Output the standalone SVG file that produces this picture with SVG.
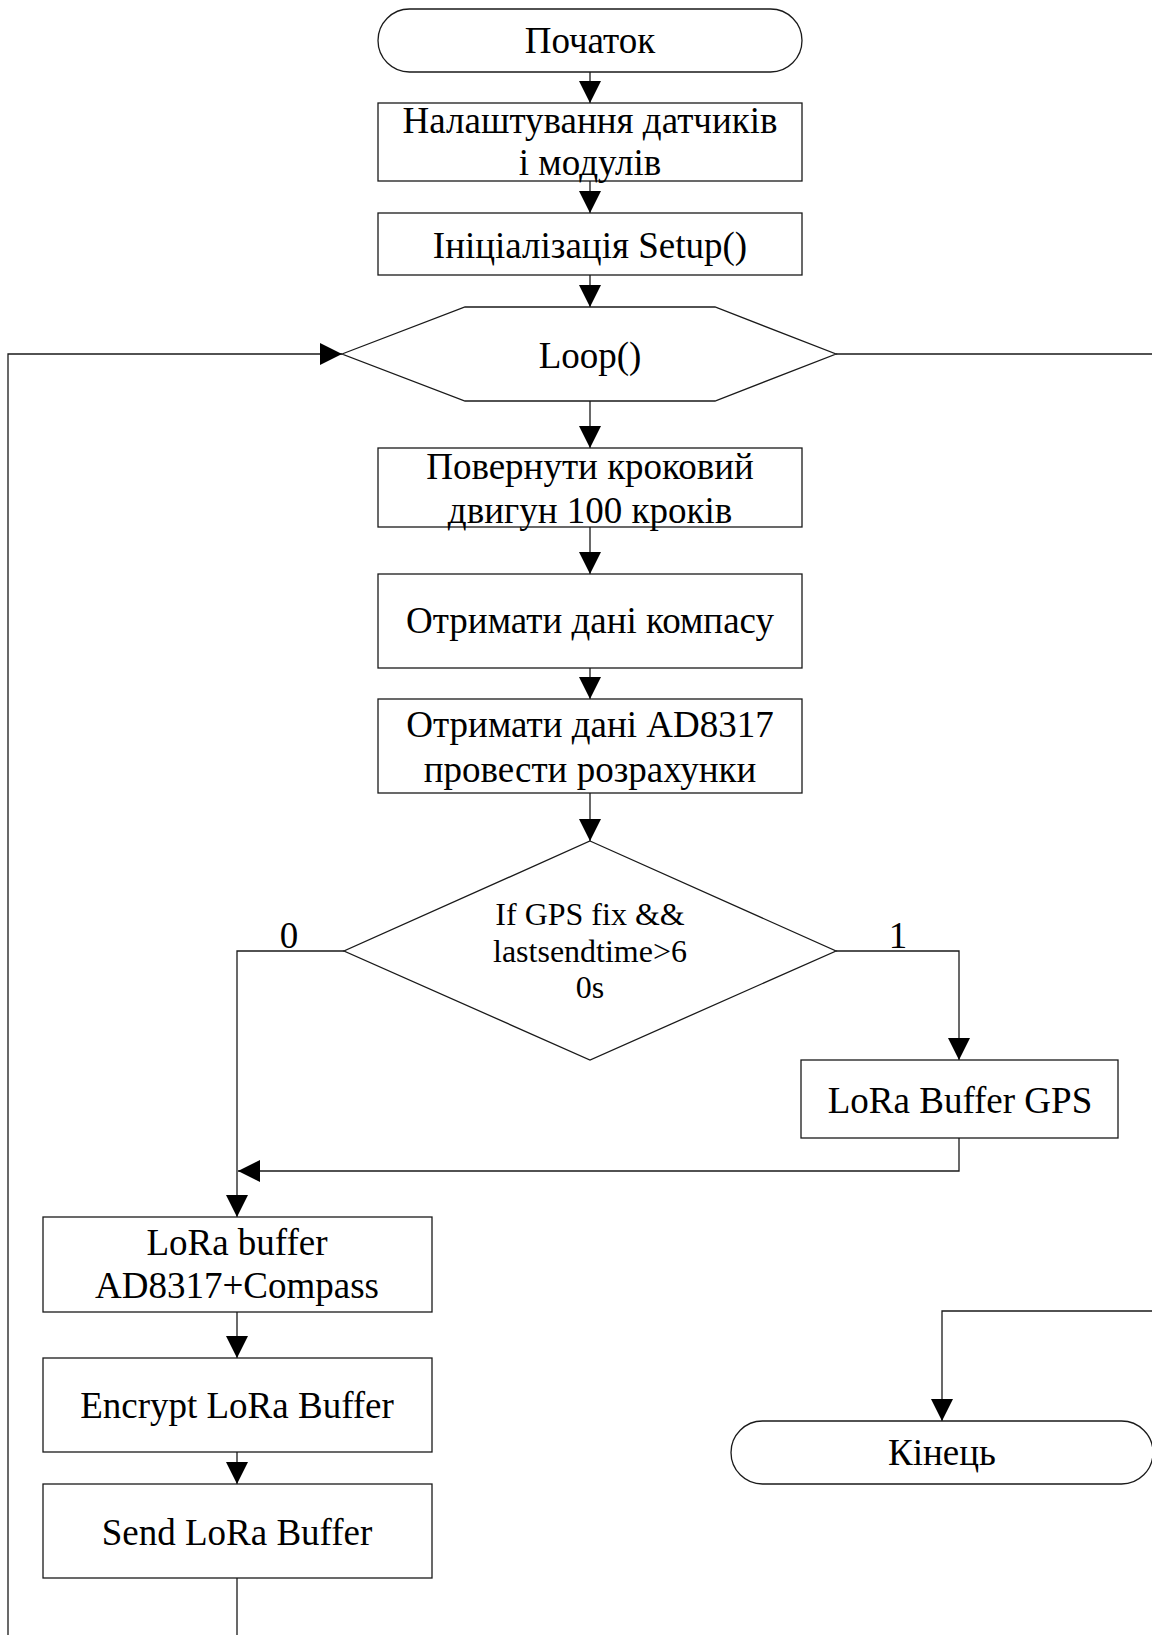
<svg xmlns="http://www.w3.org/2000/svg" width="1152" height="1635" viewBox="0 0 1152 1635">
<style>
.s{fill:#fff;stroke:#1a1a1a;stroke-width:1.3}
.c{fill:none;stroke:#1a1a1a;stroke-width:1.3}
text{font-family:"Liberation Serif","Times New Roman",serif;font-size:37px;fill:#000;text-anchor:middle}
.d{font-size:32px}
</style>
<defs>
<marker id="ah" markerUnits="userSpaceOnUse" markerWidth="22" markerHeight="22" refX="22" refY="11" orient="auto">
<path d="M0,0 L22,11 L0,22 z" fill="#000"/>
</marker>
</defs>
<rect width="1152" height="1635" fill="#fff"/>
<g id="connectors">
<path class="c" d="M590,72 V103" marker-end="url(#ah)"/>
<path class="c" d="M590,181 V213" marker-end="url(#ah)"/>
<path class="c" d="M590,275 V307" marker-end="url(#ah)"/>
<path class="c" d="M590,401 V448" marker-end="url(#ah)"/>
<path class="c" d="M590,527 V574" marker-end="url(#ah)"/>
<path class="c" d="M590,668 V699" marker-end="url(#ah)"/>
<path class="c" d="M590,793 V841" marker-end="url(#ah)"/>
<path class="c" d="M344,951 H237 V1217" marker-end="url(#ah)"/>
<path class="c" d="M836,951 H959 V1060" marker-end="url(#ah)"/>
<path class="c" d="M959,1138 V1171 H238" marker-end="url(#ah)"/>
<path class="c" d="M237,1312 V1358" marker-end="url(#ah)"/>
<path class="c" d="M237,1452 V1484" marker-end="url(#ah)"/>
<path class="c" d="M237,1578 V1700 H8 V354 H342" marker-end="url(#ah)"/>
<path class="c" d="M836,354 H1200 V1311 H942 V1421" marker-end="url(#ah)"/>
<text x="289" y="948">0</text>
<text x="898" y="948">1</text>
</g>
<g id="start">
<rect class="s" x="378" y="9" width="424" height="63" rx="31.5" ry="31.5"/>
<text x="590" y="53">Початок</text>
</g>
<g id="setup-sensors">
<rect class="s" x="378" y="103" width="424" height="78"/>
<text x="590" y="133">Налаштування датчиків</text>
<text x="590" y="175">і модулів</text>
</g>
<g id="init-setup">
<rect class="s" x="378" y="213" width="424" height="62"/>
<text x="590" y="258">Ініціалізація Setup()</text>
</g>
<g id="loop">
<polygon class="s" points="342,354 465,307 715,307 836,354 715,401 465,401"/>
<text x="590" y="368">Loop()</text>
</g>
<g id="rotate-stepper">
<rect class="s" x="378" y="448" width="424" height="79"/>
<text x="590" y="479">Повернути кроковий</text>
<text x="590" y="523">двигун 100 кроків</text>
</g>
<g id="compass">
<rect class="s" x="378" y="574" width="424" height="94"/>
<text x="590" y="633">Отримати дані компасу</text>
</g>
<g id="ad8317">
<rect class="s" x="378" y="699" width="424" height="94"/>
<text x="590" y="737">Отримати дані AD8317</text>
<text x="590" y="782">провести розрахунки</text>
</g>
<g id="gps-check">
<polygon class="s" points="590,841 836,951 590,1060 344,951"/>
<text class="d" x="590" y="925">If GPS fix &amp;&amp;</text>
<text class="d" x="590" y="962">lastsendtime&gt;6</text>
<text class="d" x="590" y="998">0s</text>
</g>
<g id="lora-gps">
<rect class="s" x="801" y="1060" width="317" height="78"/>
<text x="960" y="1113">LoRa Buffer GPS</text>
</g>
<g id="lora-buffer">
<rect class="s" x="43" y="1217" width="389" height="95"/>
<text x="237" y="1255">LoRa buffer</text>
<text x="237" y="1298">AD8317+Compass</text>
</g>
<g id="encrypt">
<rect class="s" x="43" y="1358" width="389" height="94"/>
<text x="237" y="1418">Encrypt LoRa Buffer</text>
</g>
<g id="send">
<rect class="s" x="43" y="1484" width="389" height="94"/>
<text x="237" y="1545">Send LoRa Buffer</text>
</g>
<g id="end">
<rect class="s" x="731" y="1421" width="422" height="63" rx="31.5" ry="31.5"/>
<text x="942" y="1465">Кінець</text>
</g>
</svg>
